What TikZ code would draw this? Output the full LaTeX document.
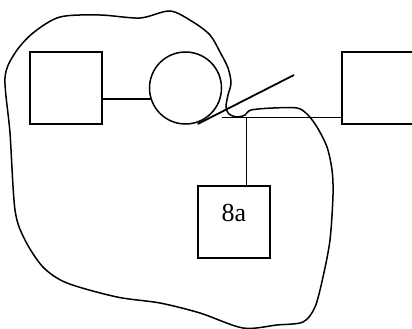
\documentclass[tikz,border=0pt]{standalone}
\usepackage{fontspec}
\setmainfont{Liberation Serif}
\begin{document}
\begin{tikzpicture}[x=1pt,y=-1pt,line width=1.5pt,
  sq/.style={draw,rectangle,minimum width=72pt,minimum height=72pt,inner sep=0pt,outer sep=0pt},
  ring/.style={draw,circle,minimum size=72pt,inner sep=0pt,outer sep=0pt}]
\useasboundingbox (0,0) rectangle (412,329);
\clip (0,0) rectangle (412,329);
\node[sq] (lsq) at (66,88) {};
\node[ring] (circ) at (185.5,88) {};
\node[sq] (rsq) at (378,88) {};
\node[sq] (box) at (234,222) {};
\node[inner sep=0pt,yshift=9pt] (lbl) at (box.center) {\fontsize{26}{31}\selectfont 8a};
\coordinate (hstart) at (221.7,117.7);
\coordinate (junc) at (246.7,117.7);
\coordinate (dA) at (197.7,124);
\coordinate (dB) at (294,75);
\draw (lsq.east |- circ.198) -- (circ.198);
\draw (hstart) -- (rsq.west |- hstart);
\draw (junc) -- (box.north -| junc);
\draw[line width=1.8pt] (dA) -- (dB);
\draw plot[smooth cycle,tension=0.5] coordinates {
 (5,78) (15,53) (33,33) (60,17) (100,15) (140,18) (170,11) (193,22) (210,35)
 (220,52) (228,68) (231,83) (228,95) (226,107) (229,114) (237,117) (245,115)
 (251,110) (273,108) (297,108) (307,114) (317,127) (327,147) (332,170) (333,195)
 (330,240) (323,277) (315,307) (303,322) (277,325) (243,328) (200,313) (160,303)
 (117,297) (67,283) (43,267) (25,240) (15,210) (10,133)};
\end{tikzpicture}
\end{document}
